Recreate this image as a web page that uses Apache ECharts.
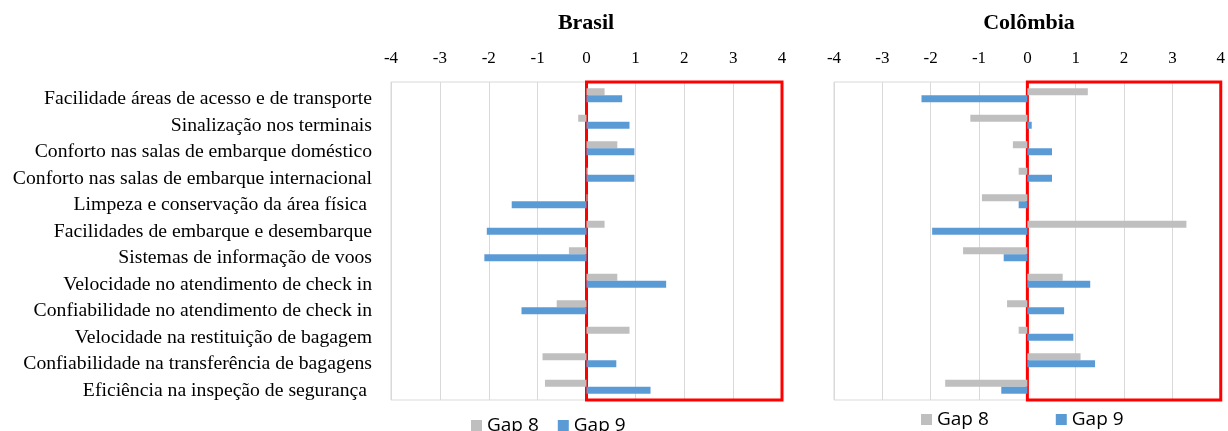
<!DOCTYPE html>
<html>
<head>
<meta charset="utf-8">
<script src="https://cdn.jsdelivr.net/npm/echarts@6/dist/echarts.min.js"></script>
<style>
  html, body { margin: 0; padding: 0; background: #fff; }
  #chart { width: 1228px; height: 431px; }
</style>
</head>
<body>
<div id="chart"></div>
<script>
// Service attributes evaluated at the airports
const categories = [
  'Facilidade áreas de acesso e de transporte',
  'Sinalização nos terminais',
  'Conforto nas salas de embarque doméstico',
  'Conforto nas salas de embarque internacional',
  'Limpeza e conservação da área física ',
  'Facilidades de embarque e desembarque',
  'Sistemas de informação de voos',
  'Velocidade no atendimento de check in',
  'Confiabilidade no atendimento de check in',
  'Velocidade na restituição de bagagem',
  'Confiabilidade na transferência de bagagens',
  'Eficiência na inspeção de segurança '
];

const brasilGap8 = [0.37, -0.17, 0.63, 0.03, 0.02, 0.37, -0.36, 0.63, -0.61, 0.88, -0.90, -0.85];
const brasilGap9 = [0.73, 0.88, 0.98, 0.98, -1.53, -2.04, -2.09, 1.63, -1.33, 0, 0.61, 1.31];

const colombiaGap8 = [1.25, -1.18, -0.30, -0.18, -0.94, 3.29, -1.33, 0.73, -0.42, -0.18, 1.10, -1.70];
const colombiaGap9 = [-2.19, 0.09, 0.51, 0.51, -0.18, -1.97, -0.49, 1.30, 0.76, 0.95, 1.40, -0.54];

const panelTitles = ['Brasil', 'Colômbia'];
const seriesNames = ['Gap 8', 'Gap 9'];
const axisMin = -4, axisMax = 4, axisStep = 1;

const grayColor = '#BFBFBF';
const blueColor = '#5B9BD5';
const serif = '"Liberation Serif", "Times New Roman", serif';
const sans = '"Open Sans", "Liberation Sans", sans-serif';

function valueAxis(gridIndex) {
  return {
    type: 'value', gridIndex, position: 'top',
    min: axisMin, max: axisMax, interval: axisStep,
    axisLine: { show: false },
    axisTick: { show: false },
    axisLabel: { color: '#000', fontFamily: serif, fontSize: 17, margin: 15 },
    splitLine: { show: true, lineStyle: { color: '#D9D9D9', width: 1 } }
  };
}

function categoryAxis(gridIndex, showLabels) {
  return {
    type: 'category', gridIndex, data: categories, inverse: true,
    axisLine: { show: false },
    axisTick: { show: false },
    axisLabel: {
      show: showLabels, margin: 19,
      formatter: (v) => '{c|' + v + '}',
      rich: {
        c: { color: '#000', fontFamily: serif, fontSize: 19.7, padding: [8, 0, 0, 0] }
      }
    },
    splitLine: { show: false }
  };
}

// Red box marking the positive half of each panel
function positiveZone() {
  return {
    silent: true,
    itemStyle: { color: 'rgba(0,0,0,0)', borderColor: '#FF0000', borderWidth: 3 },
    data: [[{ xAxis: 0 }, { xAxis: axisMax }]]
  };
}

function barSeries(name, idx, data, color, withZone) {
  const s = {
    name, type: 'bar', xAxisIndex: idx, yAxisIndex: idx, data,
    barWidth: 7, barGap: '0%',
    itemStyle: { color },
    emphasis: { disabled: true }
  };
  if (withZone) s.markArea = positiveZone();
  return s;
}

const legendText = { fontFamily: sans, fontSize: 19, color: '#000' };
const titleText = { fontFamily: serif, fontSize: 22, fontWeight: 'bold', color: '#000' };

const chart = echarts.init(document.getElementById('chart'), null, { renderer: 'canvas' });

chart.setOption({
  animation: false,
  title: [
    { text: panelTitles[0], left: 586, top: 12, textAlign: 'center', padding: 0, textStyle: titleText },
    { text: panelTitles[1], left: 1029, top: 12, textAlign: 'center', padding: 0, textStyle: titleText }
  ],
  legend: [
    { data: seriesNames, left: 471, top: 416, padding: 0, itemWidth: 11, itemHeight: 11, itemGap: 19,
      icon: 'rect', textStyle: legendText },
    { data: seriesNames, left: 921, top: 410, padding: 0, itemWidth: 11, itemHeight: 11, itemGap: 67,
      icon: 'rect', textStyle: legendText }
  ],
  grid: [
    { left: 391, right: 446, top: 82, bottom: 31, show: true, borderColor: '#D9D9D9', borderWidth: 1, backgroundColor: 'transparent' },
    { left: 834, right: 6, top: 82, bottom: 31, show: true, borderColor: '#D9D9D9', borderWidth: 1, backgroundColor: 'transparent' }
  ],
  xAxis: [valueAxis(0), valueAxis(1)],
  yAxis: [categoryAxis(0, true), categoryAxis(1, false)],
  series: [
    barSeries(seriesNames[0], 0, brasilGap8, grayColor, true),
    barSeries(seriesNames[1], 0, brasilGap9, blueColor, false),
    barSeries(seriesNames[0], 1, colombiaGap8, grayColor, true),
    barSeries(seriesNames[1], 1, colombiaGap9, blueColor, false)
  ]
});
</script>
</body>
</html>
